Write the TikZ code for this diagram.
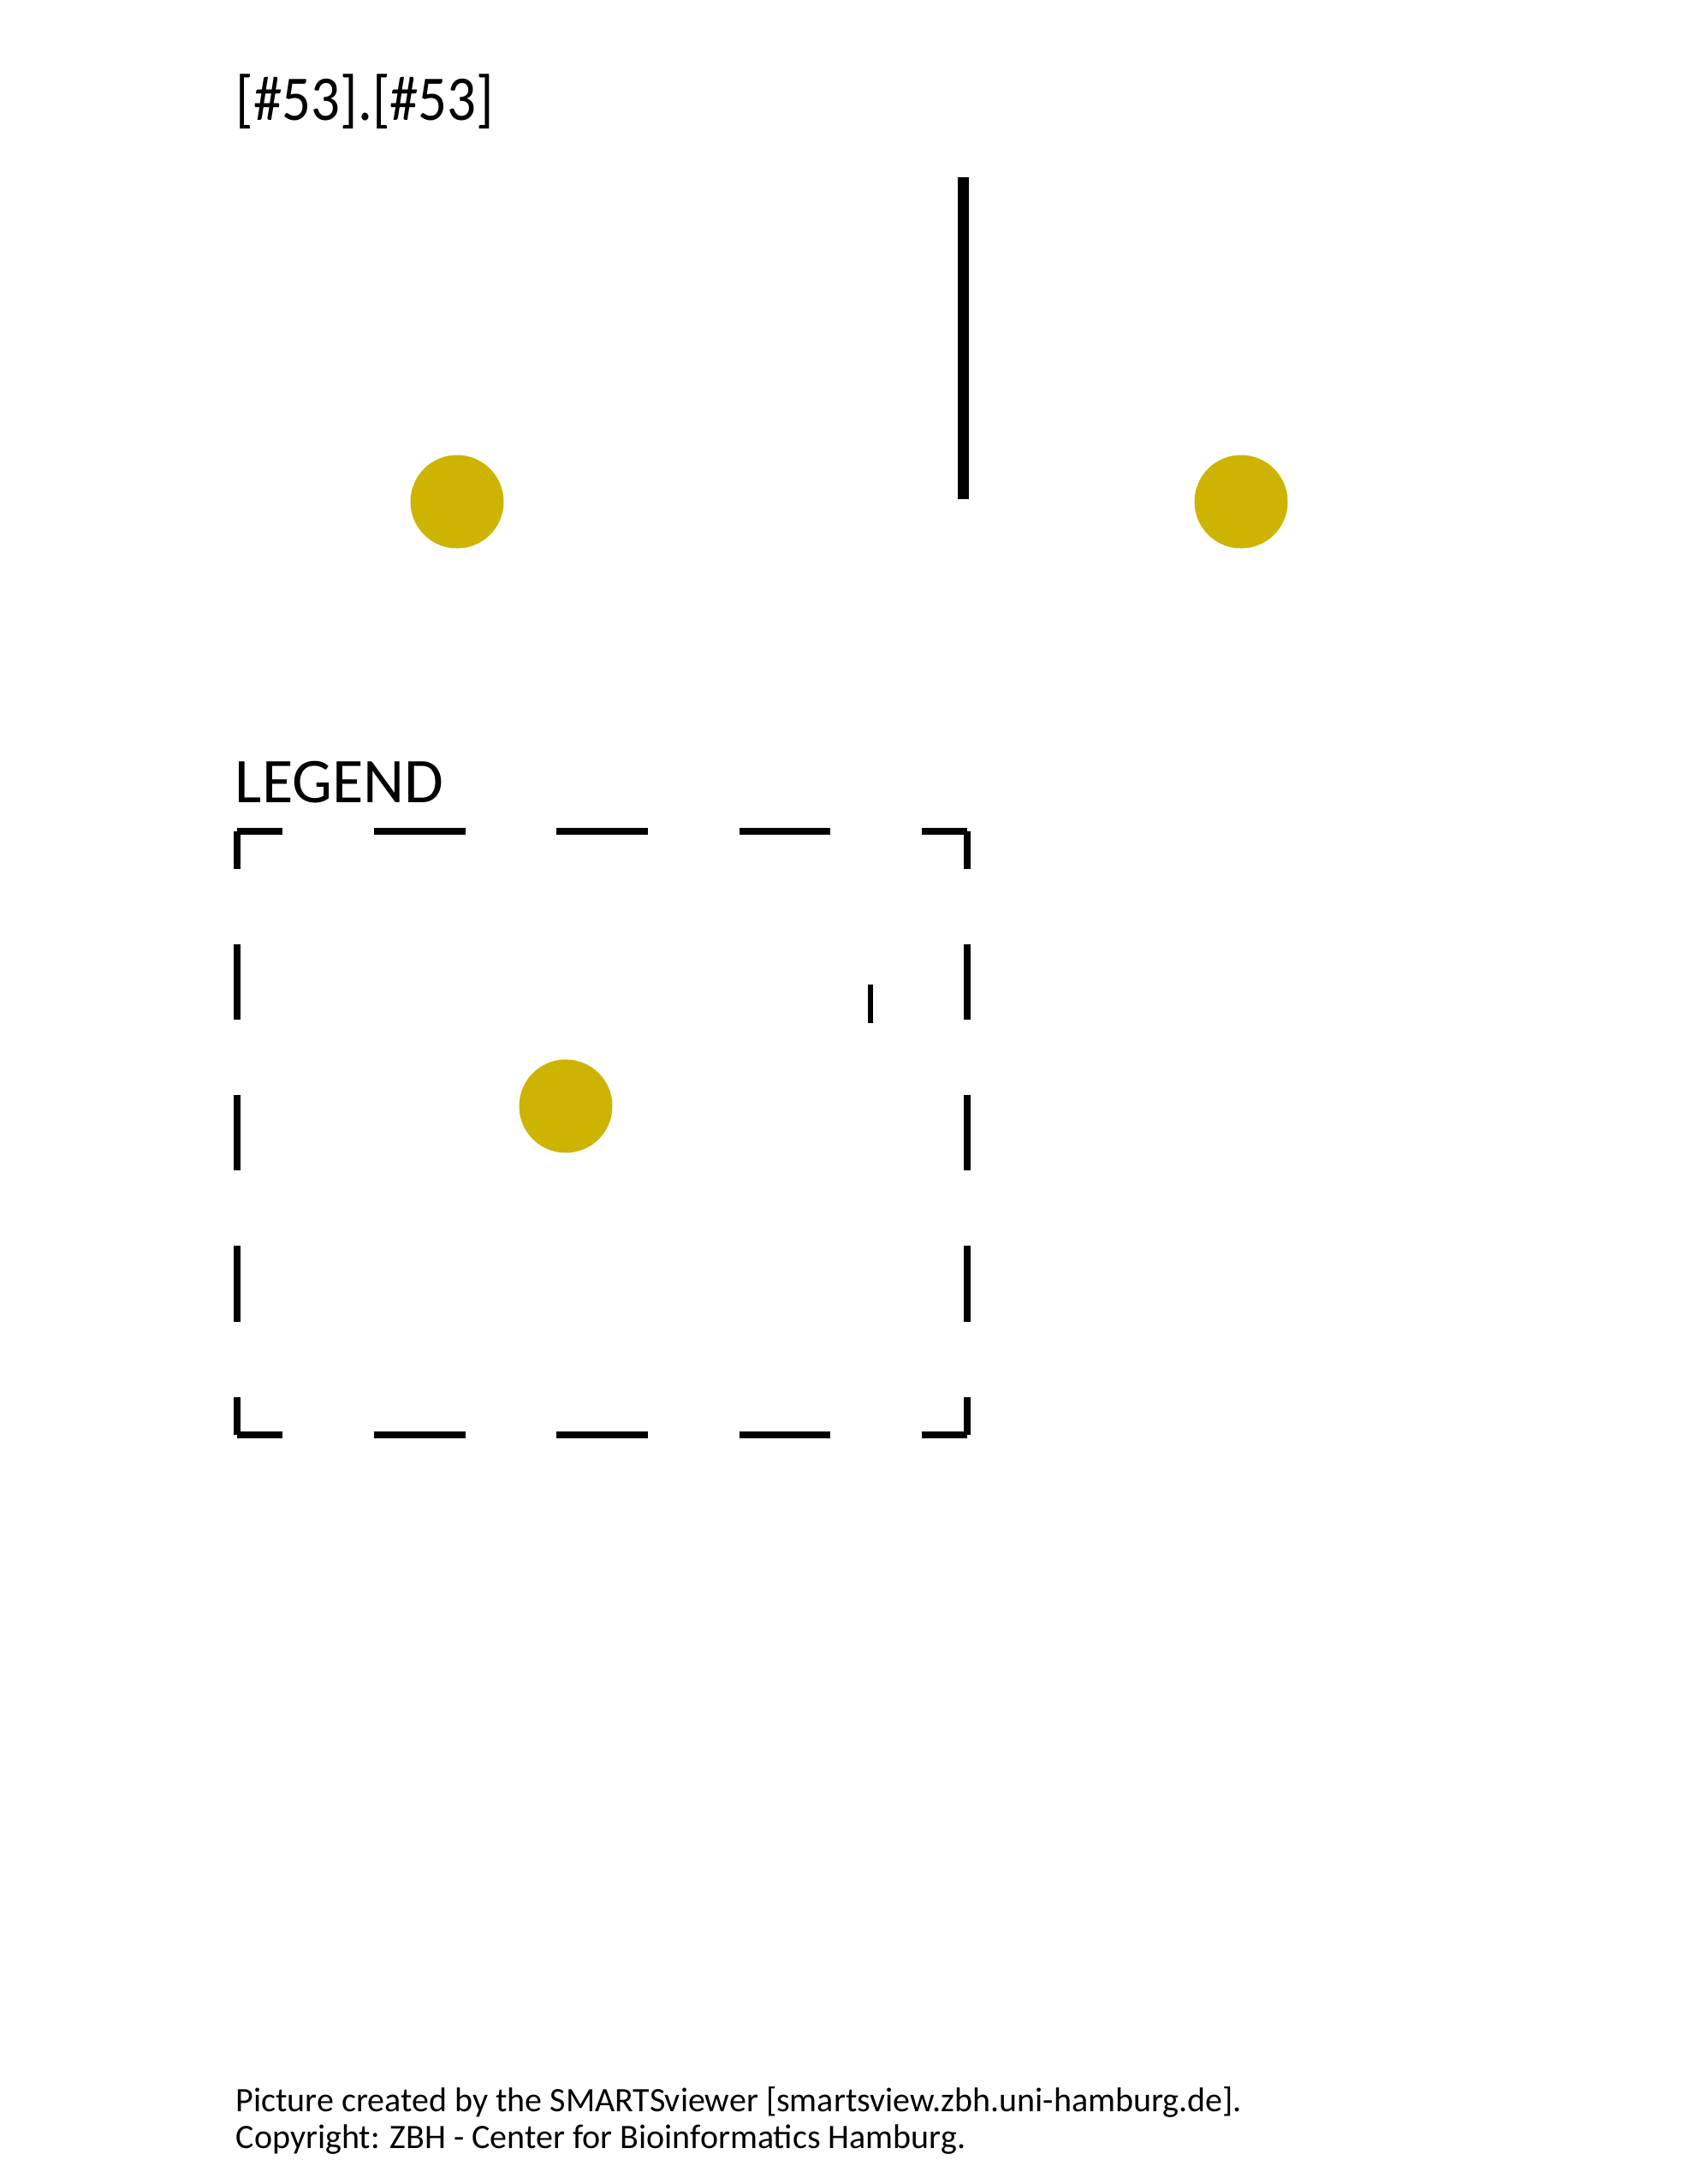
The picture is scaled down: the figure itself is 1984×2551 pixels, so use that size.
\documentclass[tikz,border=0pt]{standalone}
\usepackage{fontspec}
\setmainfont{Carlito}
\usepackage{graphicx}
\usepackage{xcolor}
\usepackage{tikz}

\definecolor{atomyellow}{RGB}{204,180,0}
\tikzset{
  atom/.style={circle, fill=atomyellow, inner sep=0pt, minimum size=27.25pt},
  legendline/.style={line width=2pt},
  bigtext/.style={anchor=base west, inner sep=0pt, font=\fontsize{18.6}{22}\selectfont},
  smalltext/.style={anchor=base west, inner sep=0pt, font=\fontsize{10}{12}\selectfont}
}

\begin{document}
\begin{tikzpicture}[x=0.25pt, y=-0.25pt]
    \useasboundingbox (0,0) rectangle (1984,2551);
    \node[bigtext] (title) at (275,140) {\scalebox{0.9}[1]{[\#53].[\#53]}};
    % pattern
    \node[atom] (a1) at (534,586) {};
    \node[atom] (a2) at (1450,586) {};
    \coordinate (btop) at (1125,207);
    \coordinate (bbot) at (1125,583);
    \draw[line width=3.25pt] (btop) -- (bbot);
    % legend
    \node[bigtext] (legend) at (274,937) {LEGEND};
    \coordinate (nw) at (277,971);
    \coordinate (ne) at (1130,971);
    \coordinate (se) at (1130,1675.5);
    \coordinate (sw) at (277,1675.5);
    \foreach \a/\b/\d/\h in {nw/ne/26.66pt/13.33pt, sw/se/26.66pt/13.33pt,
                             nw/sw/22.02pt/11.01pt, ne/se/22.02pt/11.01pt} {
      \draw[legendline, dash pattern=on \d off \d, dash phase=\h] (\a) -- (\b);
    }
    \node[atom] (la) at (661,1292) {};
    \coordinate (ttop) at (1017,1150);
    \coordinate (tbot) at (1017,1195);
    \draw[line width=1.5pt] (ttop) -- (tbot);
    \node[smalltext] (foot1) at (275,2466) {Picture created by the SMARTSviewer [smartsview.zbh.uni-hamburg.de].};
    \node[smalltext] (foot2) at (275,2509) {Copyright: ZBH - Center for Bioinformatics Hamburg.};
  \end{tikzpicture}
\end{document}
